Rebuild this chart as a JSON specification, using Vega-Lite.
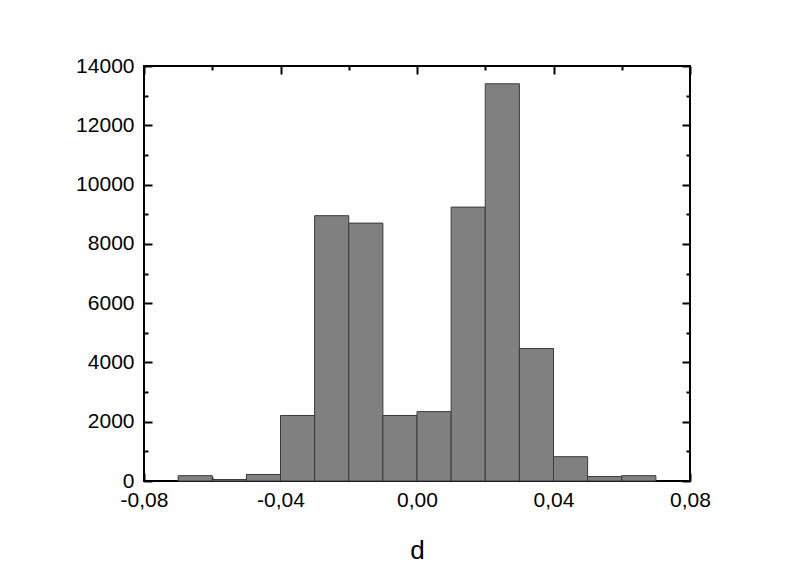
{
  "$schema": "https://vega.github.io/schema/vega-lite/v6.json",
  "width": 546,
  "height": 415,
  "autosize": {"type": "none"},
  "padding": {"left": 144, "top": 66, "right": 111, "bottom": 95},
  "background": "white",
  "config": {
    "view": {"stroke": "black", "strokeWidth": 2},
    "font": "Liberation Sans",
    "axis": {"grid": false}
  },
  "data": {
    "values": [
      {"start": -0.07, "end": -0.06, "count": 180},
      {"start": -0.06, "end": -0.05, "count": 50},
      {"start": -0.05, "end": -0.04, "count": 220},
      {"start": -0.04, "end": -0.03, "count": 2210},
      {"start": -0.03, "end": -0.02, "count": 8950},
      {"start": -0.02, "end": -0.01, "count": 8700},
      {"start": -0.01, "end": 0.0, "count": 2210},
      {"start": 0.0, "end": 0.01, "count": 2340},
      {"start": 0.01, "end": 0.02, "count": 9240},
      {"start": 0.02, "end": 0.03, "count": 13400},
      {"start": 0.03, "end": 0.04, "count": 4470},
      {"start": 0.04, "end": 0.05, "count": 820},
      {"start": 0.05, "end": 0.06, "count": 150},
      {"start": 0.06, "end": 0.07, "count": 180}
    ]
  },
  "resolve": {"axis": {"x": "independent", "y": "independent"}},
  "layer": [
    {
      "mark": {"type": "rect", "fill": "#808080", "stroke": "#3a3a3a", "strokeWidth": 1},
      "encoding": {
        "x": {
          "field": "start", "type": "quantitative",
          "scale": {"domain": [-0.08, 0.08], "nice": false, "zero": false},
          "axis": {
            "orient": "bottom",
            "values": [-0.08, -0.06, -0.04, -0.02, 0, 0.02, 0.04, 0.06, 0.08],
            "domain": false,
            "tickColor": "black", "tickWidth": 2,
            "tickSize": {"condition": {"test": "abs(round(datum.value*100)) % 4 === 0", "value": -8}, "value": -4},
            "labelExpr": "abs(round(datum.value*100)) % 4 === 0 ? replace(replace(format(datum.value, '.2f'), '.', ','), '\u2212', '-') : ''",
            "labelFontSize": 21, "labelColor": "black", "labelPadding": 16,
            "labelFlush": false, "labelOverlap": false,
            "title": "d", "titleFontSize": 26, "titleFontWeight": "normal", "titleColor": "black", "titlePadding": 23
          }
        },
        "x2": {"field": "end"},
        "y": {
          "field": "count", "type": "quantitative",
          "scale": {"domain": [0, 14000], "nice": false},
          "axis": {
            "orient": "left",
            "values": [0, 1000, 2000, 3000, 4000, 5000, 6000, 7000, 8000, 9000, 10000, 11000, 12000, 13000, 14000],
            "domain": false,
            "tickColor": "black", "tickWidth": 2,
            "tickSize": {"condition": {"test": "datum.value % 2000 === 0", "value": -8}, "value": -4},
            "labelExpr": "datum.value % 2000 === 0 ? '' + datum.value : ''",
            "labelFontSize": 21, "labelColor": "black", "labelPadding": 18,
            "labelFlush": false, "labelOverlap": false,
            "title": null
          }
        },
        "y2": {"datum": 0}
      }
    },
    {
      "mark": {"type": "rect", "opacity": 0},
      "encoding": {
        "x": {
          "field": "start", "type": "quantitative",
          "scale": {"domain": [-0.08, 0.08], "nice": false, "zero": false},
          "axis": {
            "orient": "top",
            "values": [-0.08, -0.06, -0.04, -0.02, 0, 0.02, 0.04, 0.06, 0.08],
            "domain": false, "labels": false, "title": null,
            "tickColor": "black", "tickWidth": 2,
            "tickSize": {"condition": {"test": "abs(round(datum.value*100)) % 4 === 0", "value": -8}, "value": -4}
          }
        },
        "x2": {"field": "end"},
        "y": {
          "field": "count", "type": "quantitative",
          "scale": {"domain": [0, 14000], "nice": false},
          "axis": {
            "orient": "right",
            "values": [0, 1000, 2000, 3000, 4000, 5000, 6000, 7000, 8000, 9000, 10000, 11000, 12000, 13000, 14000],
            "domain": false, "labels": false, "title": null,
            "tickColor": "black", "tickWidth": 2,
            "tickSize": {"condition": {"test": "datum.value % 2000 === 0", "value": -8}, "value": -4}
          }
        },
        "y2": {"datum": 0}
      }
    }
  ]
}
